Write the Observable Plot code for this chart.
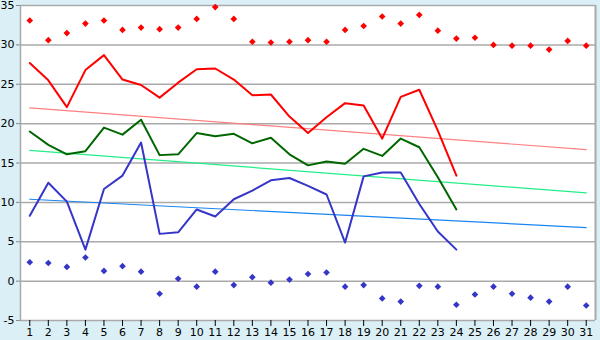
<!DOCTYPE html>
<html>
<head>
<meta charset="utf-8">
<script src="https://cdn.jsdelivr.net/npm/d3@7"></script>
<script src="https://cdn.jsdelivr.net/npm/@observablehq/plot@0.6"></script>
<style>
  html, body { margin: 0; padding: 0; background: #daeff6; }
  #chart svg { display: block; background: #daeff6; }
</style>
</head>
<body>
<div id="chart"></div>
<script>
const days = d3.range(1, 32);
const yTicks = [-5, 0, 5, 10, 15, 20, 25, 30, 35];

const absMax = [33.1, 30.6, 31.5, 32.7, 33.1, 31.9, 32.2, 32.0, 32.2, 33.3, 34.8, 33.3, 30.4, 30.3, 30.4, 30.6, 30.4, 31.9, 32.4, 33.6, 32.7, 33.8, 31.8, 30.8, 30.9, 30.0, 29.9, 29.9, 29.4, 30.5, 29.9];
const meanMax = [27.7, 25.5, 22.1, 26.8, 28.7, 25.6, 24.9, 23.3, 25.2, 26.9, 27.0, 25.6, 23.6, 23.7, 20.9, 18.8, 20.8, 22.6, 22.3, 18.1, 23.4, 24.3, 19.1, 13.4];
const meanTemp = [19.0, 17.3, 16.1, 16.5, 19.5, 18.6, 20.5, 16.0, 16.1, 18.8, 18.4, 18.7, 17.5, 18.2, 16.1, 14.7, 15.2, 14.9, 16.8, 15.9, 18.1, 17.0, 13.2, 9.1];
const meanMin = [8.3, 12.5, 10.1, 4.0, 11.7, 13.4, 17.6, 6.0, 6.2, 9.1, 8.2, 10.4, 11.5, 12.8, 13.1, 12.1, 11.0, 4.9, 13.3, 13.8, 13.8, 9.8, 6.3, 4.0];
const absMin = [2.4, 2.3, 1.8, 3.0, 1.3, 1.9, 1.2, -1.6, 0.3, -0.7, 1.2, -0.5, 0.5, -0.2, 0.2, 0.9, 1.1, -0.7, -0.5, -2.2, -2.6, -0.6, -0.7, -3.0, -1.7, -0.7, -1.6, -2.1, -2.6, -0.7, -3.1];

const trendDays = [1, 31];
const trendMax = [22.0, 16.7];
const trendMean = [16.6, 11.2];
const trendMin = [10.4, 6.8];

const series = (vals) => vals.map((v, i) => ({day: days[i], v}));
const trend = (vals) => vals.map((v, i) => ({day: trendDays[i], v}));

const chart = Plot.plot({
  width: 600,
  height: 340,
  marginLeft: 20,
  marginRight: 5,
  marginTop: 5,
  marginBottom: 20,
  style: {fontFamily: "DejaVu Sans", fontSize: "11px", color: "#000", background: "#daeff6"},
  x: {domain: [0.5, 31.5], ticks: days, label: null},
  y: {domain: [-5, 35], ticks: yTicks, label: null},
  marks: [
    Plot.frame({fill: "white", stroke: null}),
    Plot.ruleY(yTicks, {stroke: "#aaaaaa", strokeWidth: 1.5}),
    Plot.ruleX([0.5], {stroke: "#aaaaaa", strokeWidth: 1.5}),
    Plot.ruleX([31.5], {stroke: "#aaaaaa", strokeWidth: 2}),
    Plot.axisX({ticks: days, tickSize: 6, tickPadding: 2, stroke: "#000", fill: "#000", label: null, tickFormat: d => String(d)}),
    Plot.axisY({ticks: yTicks, tickSize: 4, tickPadding: 2, stroke: "#888", fill: "#000", label: null, tickFormat: d => String(d)}),
    Plot.line(trend(trendMax), {x: "day", y: "v", stroke: "#ff8080", strokeWidth: 1.2}),
    Plot.line(trend(trendMean), {x: "day", y: "v", stroke: "#22ee88", strokeWidth: 1.2}),
    Plot.line(trend(trendMin), {x: "day", y: "v", stroke: "#1a85f0", strokeWidth: 1.2}),
    Plot.line(series(meanMax), {x: "day", y: "v", stroke: "#ff0000", strokeWidth: 2}),
    Plot.line(series(meanTemp), {x: "day", y: "v", stroke: "#006600", strokeWidth: 2}),
    Plot.line(series(meanMin), {x: "day", y: "v", stroke: "#3535c8", strokeWidth: 2}),
    Plot.dot(series(absMax), {x: "day", y: "v", symbol: "diamond2", fill: "#ff0000", r: 3}),
    Plot.dot(series(absMin), {x: "day", y: "v", symbol: "diamond2", fill: "#3535c8", r: 3})
  ]
});
document.getElementById("chart").appendChild(chart);
</script>
</body>
</html>
